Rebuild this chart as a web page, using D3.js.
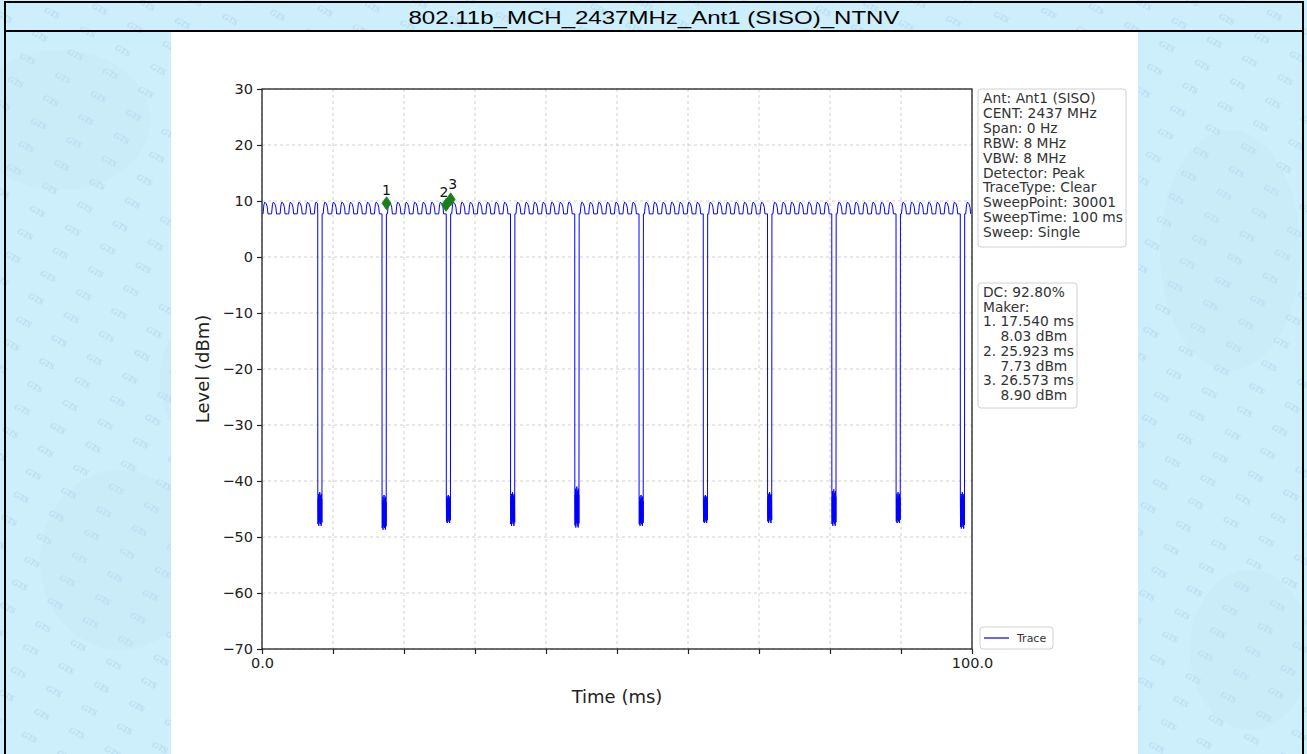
<!DOCTYPE html>
<html><head><meta charset="utf-8">
<script src="https://cdn.jsdelivr.net/npm/d3@7/dist/d3.min.js"></script>
<style>body{margin:0;background:#fff}svg{display:block}</style>
</head><body>
<svg id="c" width="1307" height="754"></svg>
<script>
// ---------- data ----------
const title = "802.11b_MCH_2437MHz_Ant1 (SISO)_NTNV";
const yTicks = [30, 20, 10, 0, -10, -20, -30, -40, -50, -60, -70];
const xTicks = [0, 10, 20, 30, 40, 50, 60, 70, 80, 90, 100];
const xTickLabels = ["0.0", "", "", "", "", "", "", "", "", "", "100.0"];
// burst gaps (ms)
const dipStarts = [7.85, 16.9, 25.95, 35.0, 44.05, 53.1, 62.15, 71.2, 80.25, 89.3, 98.35];
const dipWidth = 0.62;
const dipTop = [-42, -42.5, -42.5, -42, -41, -42.5, -42.5, -42, -41.5, -42, -42];
const dipBottom = [-48, -48.7, -47.5, -48, -48.3, -48, -47.5, -47.5, -48, -47.5, -48.5];
const dipNoise = [0.1, 0.95, 0.2, 0.8, 0.05, 1.0, 0.3, 0.9, 0.15, 0.85, 0.0, 0.7, 0.25, 0.95, 0.1, 0.8, 0.35, 1.0, 0.05, 0.75, 0.2, 0.9];
// one hump of the "on" level (phase within hump, level dBm)
const humpPhase = [0, 0.12, 0.22, 0.32, 0.5, 0.62, 0.7, 1.0];
const humpLevel = [7.7, 7.7, 9.3, 9.8, 9.5, 8.9, 7.7, 7.7];
const humpWidth = 1.204;
const baseLevel = 7.7;
const markerTimes = [17.54, 25.923, 26.573];
const markerLevels = [9.6, 9.3, 10.3];
const markerNames = ["1", "2", "3"];
const infoLines = ["Ant: Ant1 (SISO)", "CENT: 2437 MHz", "Span: 0 Hz", "RBW: 8 MHz", "VBW: 8 MHz",
  "Detector: Peak", "TraceType: Clear", "SweepPoint: 30001", "SweepTime: 100 ms", "Sweep: Single"];
const dcLines = ["DC: 92.80%", "Maker:", "1. 17.540 ms", "    8.03 dBm", "2. 25.923 ms", "    7.73 dBm",
  "3. 26.573 ms", "    8.90 dBm"];
const legendLabel = "Trace";

// ---------- build trace points from the arrays ----------
const trace = [];
let onStart = 0;
const onEnds = dipStarts.concat([100]);
onEnds.forEach((onEnd, i) => {
  for (let k = 0; onStart + k * humpWidth < onEnd; k++) {
    humpPhase.forEach((p, j) => {
      const t = onStart + (k + p) * humpWidth;
      if (t <= onEnd) trace.push([t, humpLevel[j]]);
    });
  }
  if (i < dipStarts.length) {
    const s = dipStarts[i];
    trace.push([s, baseLevel]);
    dipNoise.forEach((f, j) => {
      const t = s + 0.01 + (dipWidth - 0.04) * j / (dipNoise.length - 1);
      trace.push([t, dipTop[i] + (dipBottom[i] - dipTop[i]) * f]);
    });
    trace.push([s + dipWidth, baseLevel]);
    onStart = s + dipWidth;
  }
});

// ---------- drawing ----------
const svg = d3.select("#c");
const defs = svg.append("defs");
const pat = defs.append("pattern").attr("id", "wm").attr("patternUnits", "userSpaceOnUse")
  .attr("width", 40).attr("height", 26).attr("patternTransform", "rotate(28)");
pat.append("rect").attr("width", 40).attr("height", 26).attr("fill", "#cdeefb");
pat.append("text").attr("x", 4).attr("y", 16).text("GTS")
  .attr("font-family", "Liberation Serif").attr("font-style", "italic").attr("font-size", 9)
  .attr("fill", "#add6ec");

svg.append("rect").attr("width", 1307).attr("height", 754).attr("fill", "url(#wm)");
// soft map blobs
[[60, 120, 90, 70], [1230, 250, 70, 120], [120, 560, 80, 90], [1250, 650, 60, 80], [200, 380, 40, 60]].forEach(b => {
  svg.append("ellipse").attr("cx", b[0]).attr("cy", b[1]).attr("rx", b[2]).attr("ry", b[3])
    .attr("fill", "#bfe3f4").attr("opacity", 0.18);
});
// table borders
svg.append("rect").attr("x", 5).attr("y", 2).attr("width", 1298).attr("height", 760)
  .attr("fill", "none").attr("stroke", "#000").attr("stroke-width", 2);
svg.append("line").attr("x1", 5).attr("x2", 1303).attr("y1", 31).attr("y2", 31)
  .attr("stroke", "#000").attr("stroke-width", 2);
svg.append("text").attr("x", 654).attr("y", 24).attr("text-anchor", "middle")
  .attr("font-family", "Liberation Sans, Arial").attr("font-size", 18)
  .attr("textLength", 491).attr("lengthAdjust", "spacingAndGlyphs").attr("fill", "#000").text(title);

// white image area
svg.append("rect").attr("x", 171).attr("y", 32).attr("width", 967).attr("height", 722).attr("fill", "#fff");

const L = 262, R = 972, T = 89, B = 649;
const x = d3.scaleLinear().domain([0, 100]).range([L, R]);
const y = d3.scaleLinear().domain([-70, 30]).range([B, T]);
const font = "DejaVu Sans, sans-serif";

// grid
const g = svg.append("g");
g.selectAll(".gx").data(xTicks).join("line").attr("x1", d => x(d)).attr("x2", d => x(d))
  .attr("y1", T).attr("y2", B).attr("stroke", "#c4c4c4").attr("stroke-width", 0.8).attr("stroke-dasharray", "3,3");
g.selectAll(".gy").data(yTicks).join("line").attr("y1", d => y(d)).attr("y2", d => y(d))
  .attr("x1", L).attr("x2", R).attr("stroke", "#c4c4c4").attr("stroke-width", 0.8).attr("stroke-dasharray", "3,3");

// trace
const line = d3.line().x(d => x(d[0])).y(d => y(d[1]));
svg.append("path").datum(trace).attr("d", line).attr("fill", "none")
  .attr("stroke", "#0000ff").attr("stroke-width", 1).attr("stroke-linejoin", "round");

// markers
const mk = svg.append("g");
const labelDx = [0, -2, 2];
const labelDy = [-8, -8, -10];
markerTimes.forEach((t, i) => {
  const cx = x(t), cy = y(markerLevels[i]);
  mk.append("path").attr("d", `M${cx},${cy - 6.5}L${cx + 4.5},${cy}L${cx},${cy + 6.5}L${cx - 4.5},${cy}Z`)
    .attr("fill", "#1a7f1a").attr("stroke", "#1a7f1a").attr("stroke-width", 0.8);
  mk.append("text").attr("x", cx + labelDx[i]).attr("y", cy + labelDy[i]).attr("text-anchor", "middle")
    .attr("font-family", font).attr("font-size", 14).attr("fill", "#111").text(markerNames[i]);
});

// axes
const ax = d3.axisBottom(x).tickValues(xTicks).tickSize(5).tickPadding(4)
  .tickFormat((d, i) => xTickLabels[i]);
const ay = d3.axisLeft(y).tickValues(yTicks).tickSize(5).tickPadding(4)
  .tickFormat(d => (d < 0 ? "\u2212" + Math.abs(d) : String(d)));
const gx = svg.append("g").attr("transform", `translate(0,${B})`).call(ax);
const gy = svg.append("g").attr("transform", `translate(${L},0)`).call(ay);
[gx, gy].forEach(a => {
  a.select(".domain").remove();
  a.selectAll("line").attr("stroke", "#222").attr("stroke-width", 1.2);
  a.selectAll("text").attr("font-family", font).attr("font-size", 14.5).attr("fill", "#222");
});
svg.append("rect").attr("x", L).attr("y", T).attr("width", R - L).attr("height", B - T)
  .attr("fill", "none").attr("stroke", "#222").attr("stroke-width", 1.3);

svg.append("text").attr("x", (L + R) / 2).attr("y", 703).attr("text-anchor", "middle")
  .attr("font-family", font).attr("font-size", 18).attr("fill", "#222").text("Time (ms)");
svg.append("text").attr("transform", `translate(209,${(T + B) / 2}) rotate(-90)`).attr("text-anchor", "middle")
  .attr("font-family", font).attr("font-size", 18).attr("fill", "#222").text("Level (dBm)");

// info boxes
function box(x0, y0, w, h, lines, base, step) {
  svg.append("rect").attr("x", x0).attr("y", y0).attr("width", w).attr("height", h).attr("rx", 3)
    .attr("fill", "#fff").attr("stroke", "#d0d0d0").attr("stroke-width", 1);
  const t = svg.append("text").attr("font-family", font).attr("font-size", 13.8).attr("fill", "#333")
    .attr("xml:space", "preserve").style("white-space", "pre");
  lines.forEach((s, i) => t.append("tspan").attr("x", x0 + 5).attr("y", base + i * step).text(s));
}
box(978, 89, 148, 158, infoLines, 103, 14.9);
box(978, 283, 99, 125, dcLines, 297, 14.7);

// legend
svg.append("rect").attr("x", 980).attr("y", 627).attr("width", 73).attr("height", 22).attr("rx", 3)
  .attr("fill", "#fff").attr("stroke", "#d0d0d0");
svg.append("line").attr("x1", 984).attr("x2", 1009).attr("y1", 638).attr("y2", 638)
  .attr("stroke", "#0000ff").attr("stroke-width", 1.2);
svg.append("text").attr("x", 1017).attr("y", 642).attr("font-family", font).attr("font-size", 11)
  .attr("fill", "#333").text(legendLabel);
</script>
</body></html>
